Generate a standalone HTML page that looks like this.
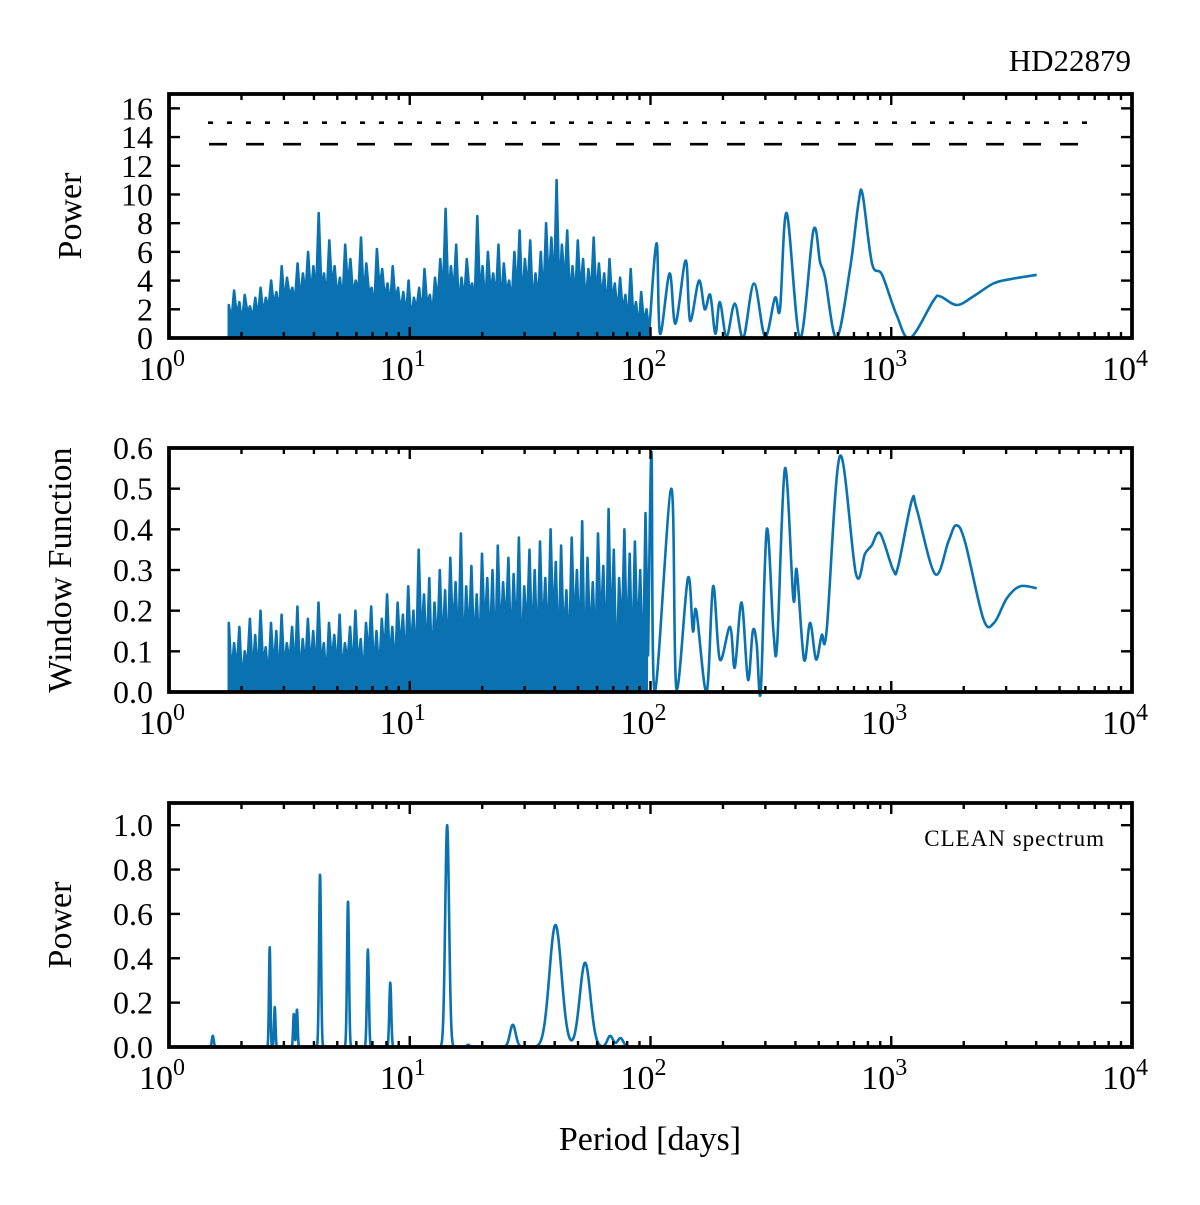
<!DOCTYPE html>
<html><head><meta charset="utf-8">
<style>
html,body{margin:0;padding:0;background:#fff;}
svg{display:block;}
text{font-family:"Liberation Serif",serif;fill:#000;}
</style></head>
<body>
<svg id="chart" width="1200" height="1205" viewBox="0 0 1200 1205" xmlns="http://www.w3.org/2000/svg">
<text x="1131" y="71" font-size="31" text-anchor="end">HD22879</text>
<text x="650" y="1150" font-size="34" text-anchor="middle">Period [days]</text>
<text transform="translate(81,216) rotate(-90)" font-size="34" text-anchor="middle">Power</text>
<text transform="translate(71,570) rotate(-90)" font-size="34" text-anchor="middle">Window Function</text>
<text transform="translate(71,925) rotate(-90)" font-size="34" text-anchor="middle">Power</text>
<text x="1105" y="846" font-size="23" text-anchor="end" letter-spacing="1">CLEAN spectrum</text>
</svg>
<script>
// ---- Panel 1: periodogram power ----
const p1DenseRange = [1.75, 100];
const p1DensePeaks = [2.3,3.3,2.5,3.0,2.2,2.8,
 3.5,2.8,4.0,3.2,5.0,4.2,3.5,5.2,4.5,6.0,5.0,
 8.7,
 4.5,6.8,5.0,4.2,6.5,5.5,4.0,7.0,5.2,3.5,6.2,4.8,3.8,5.0,3.5,
 3.2,4.0,2.8,3.5,4.8,3.0,4.2,5.5,
 9.0,
 5.0,6.5,4.2,5.5,3.8,8.5,5.0,6.0,4.5,6.5,5.2,4.0,6.0,
 7.5,5.5,6.8,4.5,6.0,8.0,7.0,
 11.0,
 6.5,7.5,5.0,6.8,5.5,4.8,7.0,5.2,
 4.5,5.5,3.8,4.2,3.0,4.8,2.5,3.2,2.0];
const p1DenseTroughs = [1.2,1.5,1.0,1.8,1.3,1.4,1.6,2.0,2.2,1.8,2.4,2.9,2.5,2.5,3.0,2.8,3.0,
 3.2,2.6,3.5,2.8,2.4,3.4,2.9,3.1,2.6,3.2,2.0,3.3,2.7,2.1,2.5,1.8,1.5,1.2,2.0,1.4,2.2,1.6,2.4,
 2.8,2.6,3.0,2.0,2.5,3.2,2.4,2.9,2.1,3.0,2.6,2.0,3.1,2.4,2.8,2.2,3.2,2.1,2.6,2.4,
 3.4,3.0,2.8,3.5,2.6,2.7,3.1,2.2,2.9,2.5,2.6,1.8,2.4,1.6,1.8,1.0,1.4,0.6,1.0,0.4];
const p1Periods = [106,109.5,120,127,140,146,159,168,177,186,194,207,224,243,269,299,329,345,368,418,475,506,531,593,675,731,760,832,916,1052,1197,1496,1596,1871,2194,2654,3119,4018];
const p1Powers  = [6.6,0.3,4.5,1.0,5.4,1.2,4.0,2.0,3.0,0.3,2.5,0.1,2.4,0.0,3.8,0.1,2.8,2.0,8.7,0.0,7.5,5.3,4.2,0.0,4.9,9.4,10.0,5.2,4.4,1.6,0.0,2.6,2.9,2.3,2.9,3.8,4.1,4.4];
const p1Thresholds = [15, 13.5];
const p1Ticks = [0,2,4,6,8,10,12,14,16];

// ---- Panel 2: window function ----
const p2DenseRange = [1.75, 99];
const p2DensePeaks = [0.17,0.12,0.16,0.10,0.18,0.14,0.20,0.11,0.17,0.15,0.19,0.12,0.16,0.21,0.13,0.18,0.15,0.22,0.12,0.17,
 0.14,0.19,0.12,0.16,0.20,0.13,0.17,0.21,0.15,0.18,0.24,0.16,0.22,0.19,0.26,0.20,0.35,0.24,0.28,0.22,
 0.30,0.25,0.33,0.27,0.39,0.26,0.31,0.24,0.34,0.28,0.30,0.36,0.27,0.33,0.29,0.38,0.26,0.35,0.30,0.37,
 0.28,0.40,0.32,0.36,0.25,0.38,0.30,0.42,0.33,0.27,0.39,0.31,0.45,0.35,0.28,0.40,0.34,0.37,0.30,0.44];
const p2DenseTroughs = [0.04,0.05,0.02,0.06,0.04,0.03,0.06,0.03,0.05,0.02,0.05,0.07,0.04,0.03,0.06,0.05,0.04,0.06,0.03,0.07,
 0.05,0.04,0.07,0.04,0.06,0.03,0.08,0.05,0.04,0.08,0.07,0.05,0.10,0.06,0.09,0.06,0.12,0.08,0.05,0.10,
 0.10,0.07,0.13,0.09,0.06,0.12,0.10,0.08,0.14,0.10,0.07,0.12,0.15,0.09,0.12,0.06,0.14,0.10,0.08,0.13,
 0.10,0.15,0.07,0.12,0.08,0.14,0.10,0.04,0.12,0.09,0.15,0.07,0.11,0.03,0.13,0.09,0.06,0.11,0.03,0.09];
const p2Periods = [101,104,122,128,143,150,155,171,182,194,214,224,239,254,266,276,287,304,324,336,362,392,405,434,460,487,514,539,612,714,778,829,899,1019,1069,1216,1276,1521,1727,1858,2023,2412,2673,3017,3425,4018];
const p2Values  = [0.59,0.0,0.50,0.01,0.28,0.15,0.20,0.0,0.26,0.08,0.16,0.06,0.22,0.03,0.15,0.12,0.0,0.40,0.15,0.12,0.55,0.23,0.30,0.08,0.17,0.08,0.14,0.15,0.58,0.29,0.34,0.36,0.39,0.30,0.31,0.47,0.45,0.29,0.37,0.41,0.37,0.18,0.17,0.23,0.26,0.255];
const p2Ticks = [0.0,0.1,0.2,0.3,0.4,0.5,0.6];

// ---- Panel 3: CLEAN spectrum ----
const p3PeakPeriods = [1.52,2.62,2.75,3.3,3.4,4.24,5.54,6.7,8.3,14.3,17.5,26.8,40.3,53.5,68,75];
const p3PeakPowers  = [0.05,0.45,0.18,0.15,0.17,0.78,0.66,0.44,0.29,1.0,0.01,0.10,0.55,0.38,0.05,0.04];
const p3PeakWidths  = [0.004,0.003,0.003,0.003,0.003,0.004,0.004,0.004,0.004,0.008,0.006,0.012,0.025,0.022,0.012,0.012];
const p3Ticks = [0.0,0.2,0.4,0.6,0.8,1.0];

const xTickLabels = ['0','1','2','3','4'];

const NS = 'http://www.w3.org/2000/svg';
const svg = document.getElementById('chart');
const L = 169, R = 1132;
const X = p => L + (R - L) / 4 * Math.log10(p);
const panels = [
  {top:94, bot:338, max:17, name:'panel1'},
  {top:448, bot:692, max:0.6, name:'panel2'},
  {top:803, bot:1047, max:1.1, name:'panel3'}
];
const mkY = pn => v => pn.bot - (pn.bot - pn.top) * v / pn.max;
function el(tag, attrs, parent){const e=document.createElementNS(NS,tag);for(const k in attrs)e.setAttribute(k,attrs[k]);(parent||svg).appendChild(e);return e;}
const COLOR = '#0a72b1';

function densePts(range, peaks, troughs, Y){
  const a=Math.log10(range[0]), b=Math.log10(range[1]), n=peaks.length, pts=[];
  for(let i=0;i<n;i++){
    pts.push([X(Math.pow(10,a+(b-a)*(i+0.25)/n)), Y(peaks[i])]);
    pts.push([X(Math.pow(10,a+(b-a)*(i+0.75)/n)), Y(troughs[i])]);
  }
  return pts;
}
function smoothPath(pts){
  let d='';
  for(let i=0;i<pts.length-1;i++){
    const p0=pts[Math.max(0,i-1)],p1=pts[i],p2=pts[i+1],p3=pts[Math.min(pts.length-1,i+2)];
    const c1=[p1[0]+(p2[0]-p0[0])/6,p1[1]+(p2[1]-p0[1])/6];
    const c2=[p2[0]-(p3[0]-p1[0])/6,p2[1]-(p3[1]-p1[1])/6];
    d+='C'+c1[0].toFixed(1)+','+c1[1].toFixed(1)+' '+c2[0].toFixed(1)+','+c2[1].toFixed(1)+' '+p2[0].toFixed(1)+','+p2[1].toFixed(1);
  }
  return d;
}
function drawSeries(dense, ps, vs, Y, pn, name){
  const pts=dense.concat(ps.map((p,i)=>[X(p),Y(vs[i])]));
  let fd='M'+dense[0][0].toFixed(1)+','+pn.bot+dense.map(q=>'L'+q[0].toFixed(1)+','+q[1].toFixed(1)).join('')+'L'+dense[dense.length-1][0].toFixed(1)+','+pn.bot+'Z';
  const f=el('path',{d:fd,fill:COLOR,stroke:'none'});
  
  
  let d='M'+dense[0][0].toFixed(1)+','+pn.bot+'L'+dense[0][0].toFixed(1)+','+dense[0][1].toFixed(1);
  d+=dense.slice(1).map(q=>'L'+q[0].toFixed(1)+','+q[1].toFixed(1)).join('');
  const sm=pts.slice(dense.length-1);
  d+=smoothPath(sm);
  const path=el('path',{d:d,fill:'none',stroke:COLOR,'stroke-width':2.6,'stroke-linejoin':'round'});
  
  
}

function drawAxes(pn, ticks, fmt){
  const Y=mkY(pn);
  const g=el('g',{});
  
  
  for(let d=0; d<4; d++){
    for(let m=1;m<10;m++){
      const x=X(m*Math.pow(10,d)); const len = m===1?11:6;
      if(m===1 && d===0) continue;
      el('line',{x1:x,x2:x,y1:pn.bot,y2:pn.bot-len,stroke:'#000','stroke-width':2.4},g);
      el('line',{x1:x,x2:x,y1:pn.top,y2:pn.top+len,stroke:'#000','stroke-width':2.4},g);
    }
  }
  xTickLabels.forEach((e,i)=>{
    const t=el('text',{x:X(Math.pow(10,i))-7,y:pn.bot+42,'font-size':34,'text-anchor':'middle'},g);
    
    
    t.textContent='10';
    const s=el('tspan',{dy:-14,'font-size':24},t); s.textContent=e;
  });
  ticks.forEach(v=>{
    const y=Y(v);
    el('line',{x1:L,x2:L+11,y1:y,y2:y,stroke:'#000','stroke-width':2.4},g);
    el('line',{x1:R,x2:R-11,y1:y,y2:y,stroke:'#000','stroke-width':2.4},g);
    const t=el('text',{x:153,y:y+11,'font-size':32,'text-anchor':'end'},g);
    
    
    t.textContent=fmt(v);
  });
  const box=el('rect',{x:L,y:pn.top,width:R-L,height:pn.bot-pn.top,fill:'none',stroke:'#000','stroke-width':3.8},g);
  
  
}

// Panel 1
(function(){
  const pn=panels[0], Y=mkY(pn);
  drawSeries(densePts(p1DenseRange,p1DensePeaks,p1DenseTroughs,Y),p1Periods,p1Powers,Y,pn,'power-series');
  const dot=el('line',{x1:208,x2:1097,y1:Y(p1Thresholds[0]),y2:Y(p1Thresholds[0]),stroke:'#000','stroke-width':2.6,'stroke-dasharray':'5,14'});
  
  
  const dash=el('line',{x1:209,x2:1097,y1:Y(p1Thresholds[1]),y2:Y(p1Thresholds[1]),stroke:'#000','stroke-width':2.6,'stroke-dasharray':'18,19'});
  
  
  drawAxes(pn,p1Ticks,v=>String(v));
})();
// Panel 2
(function(){
  const pn=panels[1], Y=mkY(pn);
  drawSeries(densePts(p2DenseRange,p2DensePeaks,p2DenseTroughs,Y),p2Periods,p2Values,Y,pn,'window-function-series');
  drawAxes(pn,p2Ticks,v=>v.toFixed(1));
})();
// Panel 3
(function(){
  const pn=panels[2], Y=mkY(pn);
  let d='';
  const a=Math.log10(1.4), b=Math.log10(100), N=1600;
  for(let i=0;i<=N;i++){
    const lp=a+(b-a)*i/N; let v=0;
    p3PeakPeriods.forEach((p,k)=>{const z=(lp-Math.log10(p))/p3PeakWidths[k]; v+=p3PeakPowers[k]*Math.exp(-0.5*z*z);});
    d+=(i?'L':'M')+X(Math.pow(10,lp)).toFixed(2)+','+Y(v).toFixed(2);
  }
  const path=el('path',{d:d,fill:'none',stroke:COLOR,'stroke-width':2.6,'stroke-linejoin':'round'});
  
  
  drawAxes(pn,p3Ticks,v=>v.toFixed(1));
})();
</script>
</body></html>
